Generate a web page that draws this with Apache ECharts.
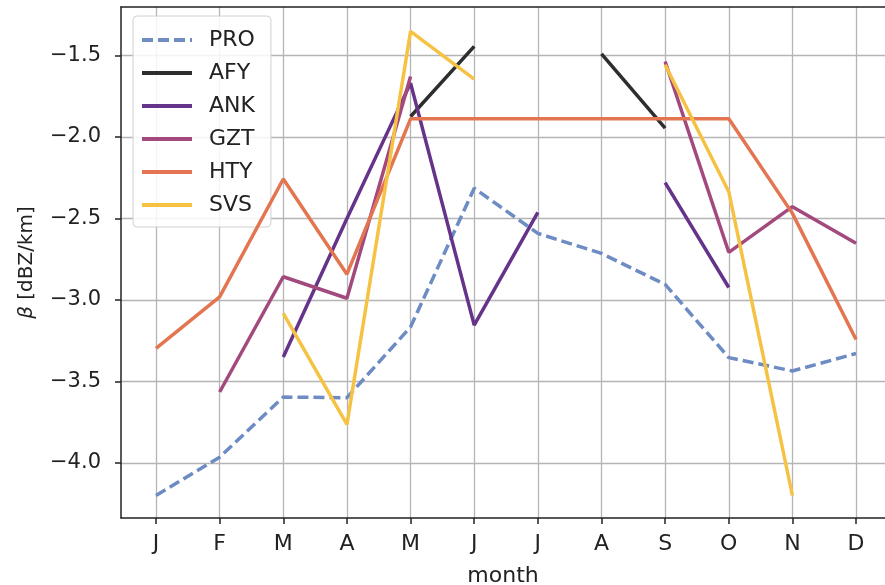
<!DOCTYPE html>
<html>
<head>
<meta charset="utf-8">
<script src="https://cdn.jsdelivr.net/npm/echarts@6/dist/echarts.min.js"></script>
<style>
html,body{margin:0;padding:0;background:#fff;}
#c{width:885px;height:585px;}
</style>
</head>
<body>
<div id="c"></div>
<script>
const months = ['J','F','M','A','M','J','J','A','S','O','N','D'];
const yTicks = [-4.0, -3.5, -3.0, -2.5, -2.0, -1.5];
const PRO = [-4.20, -3.965, -3.596, -3.60, -3.166, -2.315, -2.592, -2.715, -2.905, -3.354, -3.436, -3.329];
const AFY = [null, null, null, null, -1.875, -1.445, null, -1.49, -1.946, null, null, null];
const ANK = [null, null, -3.35, -2.50, -1.67, -3.155, -2.463, null, -2.28, -2.924, null, null];
const GZT = [null, -3.565, -2.858, -2.99, -1.63, null, null, null, -1.537, -2.708, -2.428, -2.653];
const HTY = [-3.298, -2.981, -2.258, -2.842, -1.889, -1.889, -1.889, -1.889, -1.889, -1.889, -2.469, -3.243];
const SVS = [null, null, -3.083, -3.764, -1.352, -1.645, null, null, -1.557, -2.336, -4.20, null];

const names = ['PRO','AFY','ANK','GZT','HTY','SVS'];
const values = [PRO, AFY, ANK, GZT, HTY, SVS];
const colors = ['#6d8cc4', '#2e2e2e', '#66338a', '#a3497e', '#e37650', '#f6c244'];

const toPairs = arr => arr.map((v, i) => [i, v]);
const xTickVals = months.map((m, i) => i);

const series = names.map((n, k) => ({
  name: n,
  type: 'line',
  data: toPairs(values[k]),
  symbol: 'none',
  connectNulls: false,
  color: colors[k],
  lineStyle: { color: colors[k], width: 3.5, type: n === 'PRO' ? [11, 5] : 'solid' },
  z: 2 + k
}));

const chart = echarts.init(document.getElementById('c'));
const fontFam = 'DejaVu Sans';
const FS = 22;
chart.setOption({
  animation: false,
  textStyle: { fontFamily: fontFam },
  grid: { left: 121, right: 0, top: 7, bottom: 67, containLabel: false, outerBoundsMode: 'none' },
  legend: {
    orient: 'vertical',
    left: 133, top: 16,
    data: names,
    itemWidth: 50, itemHeight: 14,
    itemGap: 11,
    padding: [13, 16, 11, 7],
    backgroundColor: 'rgba(255,255,255,0.85)',
    borderColor: '#d0d0d0', borderWidth: 1, borderRadius: 4,
    itemStyle: { opacity: 0 },
    lineStyle: { width: 4 },
    textStyle: { fontSize: FS, color: '#222', fontFamily: fontFam, lineHeight: 22, padding: [0, 0, 0, 12] }
  },
  xAxis: [{
    type: 'value', min: -0.55, max: 11.455,
    name: 'month', nameLocation: 'middle', nameGap: 47,
    nameTextStyle: { fontSize: FS, color: '#222', fontFamily: fontFam },
    axisLine: { show: true, onZero: false, lineStyle: { color: '#222', width: 1.5 } },
    axisTick: { show: true, customValues: xTickVals, length: 6, lineStyle: { color: '#222', width: 1.5 } },
    axisLabel: { customValues: xTickVals, formatter: v => months[Math.round(v)] || '', fontSize: FS, color: '#222', margin: 15 },
    splitLine: { show: true, lineStyle: { color: '#b5b5b5', width: 1.3 } }
  }, {
    type: 'value', position: 'top', min: -0.55, max: 11.455,
    axisLine: { show: true, onZero: false, lineStyle: { color: '#222', width: 1.5 } },
    axisTick: { show: false }, axisLabel: { show: false }, splitLine: { show: false }
  }],
  yAxis: {
    type: 'value', min: -4.338, max: -1.203,
    name: '{i|β} [dBZ/km]', nameLocation: 'middle', nameGap: 84, nameRotate: 90,
    nameTextStyle: { fontSize: 20, color: '#222', fontFamily: fontFam,
      rich: { i: { fontStyle: 'italic', fontSize: 20, fontFamily: fontFam, color: '#222' } } },
    axisLine: { show: true, onZero: false, lineStyle: { color: '#222', width: 1.5 } },
    axisTick: { show: true, customValues: yTicks, length: 6, lineStyle: { color: '#222', width: 1.5 } },
    axisLabel: { customValues: yTicks, formatter: v => (v < 0 ? '\u2212' : '') + Math.abs(v).toFixed(1), fontSize: 21, color: '#222', margin: 20 },
    splitLine: { show: true, lineStyle: { color: '#b5b5b5', width: 1.3 } }
  },
  series: series
});
</script>
</body>
</html>
